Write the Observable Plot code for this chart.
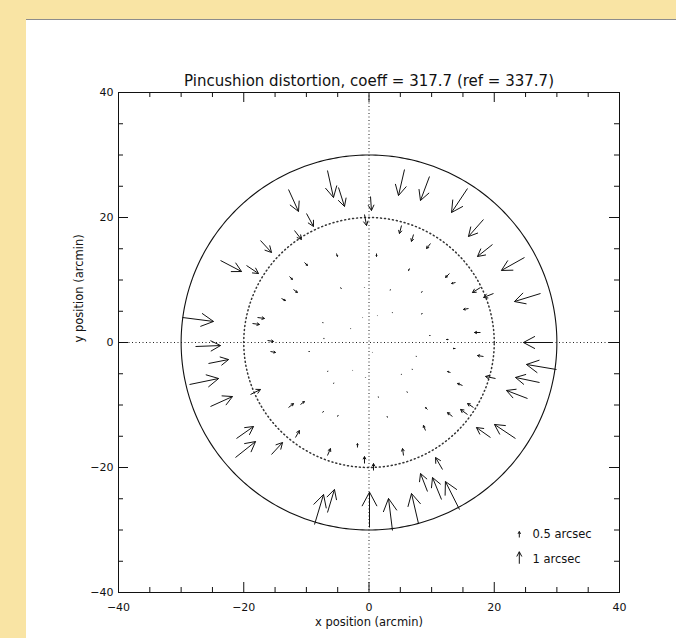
<!DOCTYPE html>
<html><head><meta charset="utf-8">
<script src="https://cdn.jsdelivr.net/npm/d3@7"></script>
<script src="https://cdn.jsdelivr.net/npm/@observablehq/plot@0.6"></script>
<style>
html,body{margin:0;padding:0;width:676px;height:638px;overflow:hidden;background:#f9e4a4;}
#panel{position:absolute;left:26px;top:19px;width:650px;height:619px;background:#fff;border-top:1px solid #8c8c8c;box-sizing:border-box;}
#chart{position:absolute;left:0;top:0;}
</style></head>
<body><div id="panel"></div><div id="chart"></div>
<script>
// ---- text ----
const titleText = "Pincushion distortion, coeff = 317.7 (ref = 337.7)";
const xLabel = "x position (arcmin)";
const yLabel = "y position (arcmin)";

// ---- axis ticks ----
const majorTicks = [-40, -20, 0, 20, 40];
const minorTicks = [-35, -30, -25, -15, -10, -5, 5, 10, 15, 25, 30, 35];

// ---- reference circles (arcmin) ----
const solidRadii = [30];
const dottedRadii = [20];

// ---- star positions (arcmin) and measured shifts (arcsec) ----
const starX = [
  -6.63, -4.87, -12.85, -9.98, -11.90, -17.33, 0.24, -0.72, 5.67, 9.66,
  5.19, 7.11, 9.82, 15.73, 18.28, 19.72, 24.83, 27.39, 29.30, 29.94,
  27.23, 25.31, 23.39, 19.40, 14.45, 11.58, 9.34, 11.74, 7.90, 3.75,
  0.08, -6.63, -8.70, -15.57, -21.32, -21.16, -25.31, -28.66, -25.63, -27.70,
  -29.78, -23.71, -19.56,
  -5.19, 1.20, -10.30, -12.70, 12.85, 6.47, -12.06, -13.97, -4.55, -17.80,
  -18.60, -7.43, -2.95, -7.27, -16.20, -15.73, -9.66, -6.63, -5.67, -18.92,
  -12.85, -10.94, -7.43, -5.03, -11.74, -6.63, -1.84, 13.81, 17.80, 19.88,
  3.43, 8.54, 15.89, 3.75, 8.54, 17.80, 9.82, 12.70, 13.81, 18.28,
  7.59, 6.95, 5.19, 13.01, 20.20, 14.93, 6.15, 1.52, 16.69, 15.73,
  13.33, 9.34, 2.95, 9.02, -0.72, 5.51, 0.72,
  -0.72, 1.36, -1.04, 0.56, -2.63, -0.56
];
const starY = [
  27.52, 24.80, 24.48, 20.64, 17.92, 16.32, 23.36, 20.48, 27.68, 26.56,
  18.72, 17.28, 15.84, 24.64, 19.68, 15.68, 13.60, 7.84, 0.00, -4.32,
  -6.40, -8.96, -15.36, -15.20, -26.72, -25.12, -23.84, -20.32, -28.96, -30.08,
  -29.60, -27.20, -29.12, -17.92, -18.40, -15.36, -10.24, -6.72, -3.36, -0.64,
  4.00, 13.12, 12.32,
  14.24, 14.24, 12.80, 10.56, 11.04, 11.84, 8.48, 7.04, 8.80, 4.00,
  3.04, 3.20, 2.24, 0.64, 0.32, -1.44, -1.44, -4.64, -6.56, -8.32,
  -10.40, -9.92, -11.20, -11.84, -15.20, -18.08, -16.80, 9.60, 8.80, 7.84,
  8.48, 8.16, 5.44, 4.80, 4.64, 1.60, 1.12, 0.48, -0.96, -2.24,
  -2.24, -4.32, -5.12, -4.80, -5.76, -6.88, -8.00, -8.80, -10.40, -11.52,
  -11.84, -10.72, -12.00, -14.08, -19.36, -18.08, -20.48,
  8.80, 4.32, 4.00, -1.60, -4.48, -5.60
];
const shiftX = [
  0.50, 0.50, 0.83, 0.58, 0.58, 0.92, 0.08, 0.17, -0.50, -0.75,
  -0.17, -0.17, -0.33, -1.33, -1.25, -1.25, -1.92, -2.17, -2.42, -2.50,
  -2.00, -1.75, -1.75, -1.17, -1.17, -0.75, -0.58, -0.58, -0.58, -0.33,
  0.00, 0.58, 0.75, 0.92, 1.67, 1.42, 1.83, 2.42, 1.67, 2.08,
  2.58, 1.75, 1.00,
  0.08, 0.00, 0.25, 0.25, -0.33, -0.08, 0.33, 0.33, 0.06, 0.58,
  0.58, 0.06, 0.03, 0.06, 0.50, 0.42, 0.08, 0.05, 0.04, 0.83,
  0.42, 0.33, 0.08, 0.05, 0.33, 0.25, 0.00, -0.33, -0.67, -0.83,
  -0.03, -0.08, -0.42, -0.03, -0.08, -0.50, -0.08, -0.17, -0.20, -0.50,
  -0.05, -0.05, -0.04, -0.25, -0.83, -0.42, -0.05, -0.02, -0.50, -0.58,
  -0.42, -0.17, -0.03, -0.17, 0.00, -0.08, 0.00,
  0.00, -0.02, 0.02, -0.02, 0.02, 0.01
];
const shiftY = [
  -2.25, -1.58, -1.83, -1.08, -0.75, -1.00, -1.17, -0.92, -2.17, -2.00,
  -0.67, -0.58, -0.42, -2.00, -1.42, -1.00, -1.08, -0.67, 0.00, 0.42,
  0.42, 0.67, 1.17, 0.83, 2.33, 1.83, 1.50, 1.00, 2.50, 2.67,
  2.95, 1.92, 2.50, 1.00, 1.33, 1.00, 0.83, 0.50, 0.33, 0.08,
  -0.33, -0.92, -0.67,
  -0.25, -0.25, -0.25, -0.25, -0.33, -0.17, -0.25, -0.17, -0.08, -0.08,
  -0.08, -0.02, -0.03, 0.00, -0.08, -0.08, 0.00, 0.04, 0.05, 0.42,
  0.33, 0.25, 0.08, 0.08, 0.58, 0.58, 0.33, -0.08, -0.42, -0.33,
  -0.06, -0.06, -0.08, -0.04, -0.04, 0.00, 0.00, 0.00, 0.00, 0.08,
  0.02, 0.03, 0.04, 0.08, 0.17, 0.17, 0.06, 0.06, 0.33, 0.42,
  0.33, 0.17, 0.08, 0.42, 0.58, 0.58, 0.58,
  -0.03, -0.02, -0.02, 0.02, 0.02, 0.03
];

// ---- key ----
const legendSizes = [0.5, 1];
const legendLabels = ["0.5 arcsec", "1 arcsec"];

// ---- geometry / styling constants ----
const W = 676, H = 638, mL = 118, mR = 57, mT = 92, mB = 46;
const PXX = (W - mL - mR) / 80, PXY = (H - mT - mB) / 80;
const ARROW = 12 / PXY;           // plot arcmin per arcsec of shift (1 arcsec = 12 px)
const keyX = 24, keyY = [-31.2, -35.4], keyTextX = 26.1, keyTextY = [-30.7, -34.7];

const vecs = starX.map((x, i) => ({x, y: starY[i], dx: shiftX[i] * ARROW, dy: shiftY[i] * ARROW}));
const keyVecs = legendSizes.map((s, i) => ({x: keyX, y: keyY[i], dx: 0, dy: s * ARROW}));
const allVecs = vecs.concat(keyVecs);

function wings(v) {
  const L = Math.hypot(v.dx, v.dy);
  if (!L) return [];
  const bx = -v.dx / L, by = -v.dy / L, hx = v.x + v.dx, hy = v.y + v.dy, w = 0.45 * L;
  return [28, -28].map(a => {
    const r = a * Math.PI / 180;
    return {x1: hx, y1: hy, x2: hx + w * (bx * Math.cos(r) - by * Math.sin(r)), y2: hy + w * (bx * Math.sin(r) + by * Math.cos(r))};
  });
}
const wingSegs = allVecs.flatMap(wings);

const angles = d3.range(0, 361, 1);
const circlePts = rs => rs.flatMap(r => angles.map(a => ({r, x: r * Math.cos(a * Math.PI / 180), y: r * Math.sin(a * Math.PI / 180)})));

const allTicks = majorTicks.filter(t => Math.abs(t) < 40).concat(minorTicks);
const len = (t, px) => (majorTicks.includes(t) ? 10 : 5) / px;

const plot = Plot.plot({
  width: W, height: H, marginLeft: mL, marginRight: mR, marginTop: mT, marginBottom: mB,
  style: {background: "transparent", color: "#111", fontFamily: "'DejaVu Sans', sans-serif", fontSize: "11px"},
  x: {domain: [-40, 40], ticks: majorTicks, tickSize: 0, tickPadding: 11, label: null},
  y: {domain: [-40, 40], ticks: majorTicks, tickSize: 0, tickPadding: 5, label: null},
  marks: [
    Plot.ruleX([0], {stroke: "#222", strokeDasharray: "1,2.5"}),
    Plot.ruleY([0], {stroke: "#222", strokeDasharray: "1,2.5"}),
    Plot.line(circlePts(solidRadii), {x: "x", y: "y", z: "r", stroke: "#111", strokeWidth: 1.1}),
    Plot.line(circlePts(dottedRadii), {x: "x", y: "y", z: "r", stroke: "#333", strokeDasharray: "1,3"}),
    Plot.link(allVecs, {x1: "x", y1: "y", x2: d => d.x + d.dx, y2: d => d.y + d.dy, stroke: "#111", strokeWidth: 1}),
    Plot.link(wingSegs, {x1: "x1", y1: "y1", x2: "x2", y2: "y2", stroke: "#111", strokeWidth: 1}),
    Plot.text(legendLabels, {x: keyTextX, y: (d, i) => keyTextY[i], text: d => d, textAnchor: "start", fontSize: 11.5, fill: "#111"}),
    Plot.ruleX(allTicks, {x: d => d, y1: -40, y2: d => -40 + len(d, PXY), stroke: "#111"}),
    Plot.ruleX(allTicks, {x: d => d, y1: 40, y2: d => 40 - len(d, PXY), stroke: "#111"}),
    Plot.ruleY(allTicks, {y: d => d, x1: -40, x2: d => -40 + len(d, PXX), stroke: "#111"}),
    Plot.ruleY(allTicks, {y: d => d, x1: 40, x2: d => 40 - len(d, PXX), stroke: "#111"}),
    Plot.frame({stroke: "#111"}),
    Plot.text([titleText], {frameAnchor: "top", dy: -11, text: d => d, fontSize: 15, lineAnchor: "middle", fill: "#111"}),
    Plot.text([xLabel], {frameAnchor: "bottom", dy: 30, text: d => d, fontSize: 11.5, lineAnchor: "middle", fill: "#111"}),
    Plot.text([yLabel], {frameAnchor: "left", dx: -39, rotate: -90, text: d => d, fontSize: 11.5, lineAnchor: "middle", fill: "#111"})
  ]
});
document.getElementById("chart").appendChild(plot);
</script></body></html>
